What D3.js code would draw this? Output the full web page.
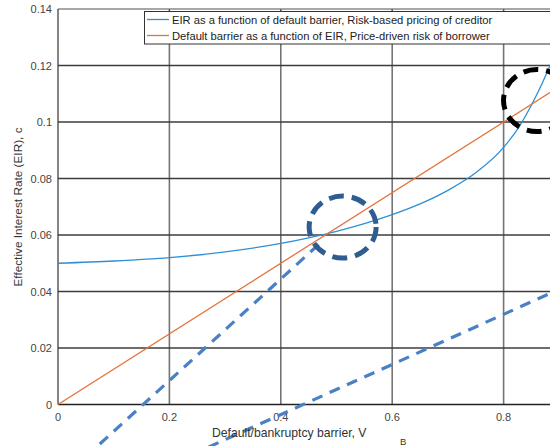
<!DOCTYPE html>
<html><head><meta charset="utf-8">
<script src="https://cdn.jsdelivr.net/npm/d3@7"></script>
<style>body{margin:0;background:#fff}svg{display:block;font-family:"Liberation Sans",Arial,Helvetica,sans-serif}</style>
</head><body><svg id="c" width="550" height="446"></svg>
<script>
// Data
const xTicks = [0, 0.2, 0.4, 0.6, 0.8];
const yTicks = [0, 0.02, 0.04, 0.06, 0.08, 0.1, 0.12, 0.14];
const yTickLabels = ["0", "0.02", "0.04", "0.06", "0.08", "0.1", "0.12", "0.14"];
const xTickLabels = ["0", "0.2", "0.4", "0.6", "0.8"];
// EIR as function of default barrier (blue)
const eirX = [0, 0.1, 0.2, 0.3, 0.4, 0.45, 0.5, 0.55, 0.6, 0.65, 0.7, 0.75, 0.8, 0.83, 0.85, 0.87, 0.89];
const eirY = [0.05, 0.0508, 0.052, 0.054, 0.057, 0.059, 0.0613, 0.064, 0.0672, 0.071, 0.0758, 0.082, 0.091, 0.099, 0.106, 0.114, 0.123];
// Default barrier as function of EIR (orange)
const barX = [0, 0.9];
const barY = [0, 0.1125];
// Annotation dashed lines
const dash1X = [0.075, 0.47];
const dash1Y = [-0.0140, 0.0570];
const dash2X = [0.27, 0.9];
const dash2Y = [-0.0151, 0.0408];
// Annotation circles (centres)
const circX = [0.511, 0.86];
const circY = [0.0628, 0.1076];
const circColors = ["#2f5d91", "#000000"];
const legendLabels = ["EIR as a function of default barrier, Risk-based pricing of creditor",
                      "Default barrier as a function of EIR, Price-driven risk of borrower"];
const seriesColors = ["#2e8fd6", "#e5703c"];

const svg = d3.select("#c");
const L = 58, T = 9, B = 404.5;
const x = d3.scaleLinear().domain([0, 0.9]).range([L, L + 0.9 * 557]);
const y = d3.scaleLinear().domain([0, 0.14]).range([B, T]);
const R = 560;

// Grid
const g = svg.append("g");
g.selectAll("line.v").data(xTicks.slice(1)).enter().append("line")
  .attr("x1", d => x(d)).attr("x2", d => x(d)).attr("y1", T).attr("y2", B)
  .attr("stroke", "#747474").attr("stroke-width", 1.6);
g.selectAll("line.h").data(yTicks.slice(1)).enter().append("line")
  .attr("x1", L).attr("x2", R).attr("y1", d => y(d)).attr("y2", d => y(d))
  .attr("stroke", d => d === 0.14 ? "#8a8a8a" : "#3c3c3c").attr("stroke-width", 1.6);
// top ticks
g.selectAll("line.tt").data(xTicks.slice(1)).enter().append("line")
  .attr("x1", d => x(d)).attr("x2", d => x(d)).attr("y1", T).attr("y2", T + 4)
  .attr("stroke", "#555").attr("stroke-width", 1);

// Axes lines
svg.append("line").attr("x1", L).attr("x2", L).attr("y1", T).attr("y2", B).attr("stroke", "#333").attr("stroke-width", 1.2);
svg.append("line").attr("x1", L).attr("x2", R).attr("y1", B).attr("y2", B).attr("stroke", "#222").attr("stroke-width", 1.6);

// Tick labels
svg.selectAll("text.yt").data(yTicks).enter().append("text")
  .attr("x", 52).attr("y", d => y(d) + 4).attr("text-anchor", "end")
  .attr("font-size", 11).attr("fill", "#444").text((d, i) => yTickLabels[i]);
svg.selectAll("text.xt").data(xTicks).enter().append("text")
  .attr("x", d => x(d)).attr("y", B + 16).attr("text-anchor", "middle")
  .attr("font-size", 11).attr("fill", "#444").text((d, i) => xTickLabels[i]);

// Series
const line = d3.line().x(d => x(d[0])).y(d => y(d[1]));
svg.append("path").datum(eirX.map((v, i) => [v, eirY[i]]))
  .attr("d", line.curve(d3.curveMonotoneX)).attr("fill", "none")
  .attr("stroke", seriesColors[0]).attr("stroke-width", 1.3);
svg.append("path").datum(barX.map((v, i) => [v, barY[i]]))
  .attr("d", d3.line().x(d => x(d[0])).y(d => y(d[1]))).attr("fill", "none")
  .attr("stroke", seriesColors[1]).attr("stroke-width", 1.3);

// Dashed annotation lines
[[dash1X, dash1Y], [dash2X, dash2Y]].forEach(([xs, ys]) => {
  svg.append("line").attr("x1", x(xs[0])).attr("y1", y(ys[0])).attr("x2", x(xs[1])).attr("y2", y(ys[1]))
    .attr("stroke", "#4a80c4").attr("stroke-width", 3.2).attr("stroke-dasharray", "11,8");
});

// Dashed circles
circX.forEach((cx, i) => {
  svg.append("ellipse").attr("cx", x(cx)).attr("cy", y(circY[i])).attr("rx", 33.5).attr("ry", 31)
    .attr("fill", "none").attr("stroke", circColors[i]).attr("stroke-width", 5)
    .attr("stroke-dasharray", "15,8");
});

// Legend
const lg = svg.append("g");
lg.append("rect").attr("x", 144.5).attr("y", 11.5).attr("width", 420).attr("height", 32.5)
  .attr("fill", "#fff").attr("stroke", "#333").attr("stroke-width", 1);
legendLabels.forEach((t, i) => {
  const yy = 19.5 + i * 16;
  lg.append("line").attr("x1", 147).attr("x2", 169).attr("y1", yy).attr("y2", yy)
    .attr("stroke", seriesColors[i]).attr("stroke-width", 1.3);
  lg.append("text").attr("x", 172).attr("y", yy + 4).attr("font-size", 11.2).attr("fill", "#222").text(t);
});

// Axis labels
svg.append("text").attr("transform", "translate(22,207) rotate(-90)").attr("text-anchor", "middle")
  .attr("font-size", 11.8).attr("fill", "#333").text("Effective Interest Rate (EIR), c");
const xl = svg.append("text").attr("x", 212).attr("y", 437).attr("font-size", 12.2).attr("fill", "#333");
xl.append("tspan").text("Default/bankruptcy barrier, V");
svg.append("text").attr("x", 400).attr("y", 445).attr("font-size", 9.5).attr("fill", "#333").text("B");
</script></body></html>
